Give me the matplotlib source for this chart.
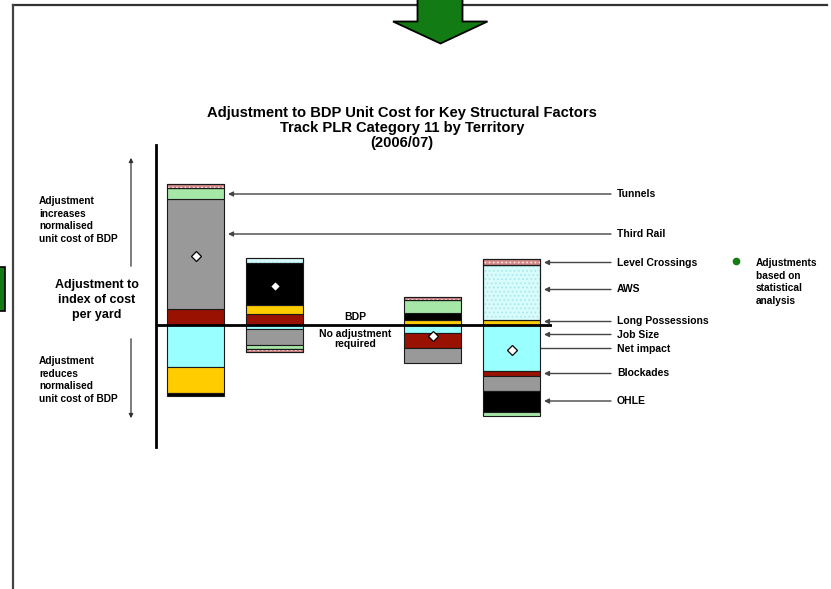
import numpy as np
import matplotlib
matplotlib.use("Agg")
import matplotlib.pyplot as plt
from matplotlib.patches import Polygon, Rectangle

plt.rcParams["font.family"] = ["Liberation Sans", "DejaVu Sans"]
plt.rcParams["font.weight"] = "bold"
plt.rcParams["hatch.linewidth"] = 0.7

# --------------------------------------------------------------
# data: adjustment to index of cost per yard, by territory
# (middle slot is the BDP reference, no bar)
# --------------------------------------------------------------
territories = ["T1", "T2", "BDP", "T3", "T4"]

job_size        = [-0.210, -0.020, 0.0, -0.040, -0.230]
blockades       = [ 0.080,  0.055, 0.0, -0.077, -0.025]
long_possession = [-0.130,  0.043, 0.0,  0.023,  0.025]
third_rail      = [ 0.550, -0.078, 0.0, -0.075, -0.077]
ohle            = [-0.016,  0.213, 0.0,  0.038, -0.105]
tunnels         = [ 0.055, -0.022, 0.0,  0.062, -0.018]
aws             = [ 0.000,  0.022, 0.0,  0.000,  0.275]
level_crossings = [ 0.018, -0.017, 0.0,  0.015,  0.032]

# stacking order and styles (face, hatch, hatch colour)
series = [
    ("Job Size",         job_size,        "#99ffff", None,   None),
    ("Blockades",        blockades,       "#991100", None,   None),
    ("Long Possessions", long_possession, "#ffcc00", None,   None),
    ("Third Rail",       third_rail,      "#999999", None,   None),
    ("OHLE",             ohle,            "#000000", None,   None),
    ("Tunnels",          tunnels,         "#a6e6a6", None,   None),
    ("AWS",              aws,             "#d8fbfb", "....", "#a6e8ee"),
    ("Level Crossings",  level_crossings, "#d48a8a", "....", "#fbe6e6"),
]

W, H = 831, 589
fig = plt.figure(figsize=(W / 100, H / 100), dpi=100)

# overlay in pixel units for the slide furniture and labels
ov = fig.add_axes([0, 0, 1, 1], zorder=0)
ov.set_xlim(0, W)
ov.set_ylim(H, 0)
ov.axis("off")

# chart axes
px_left, px_right, px_top, px_bot = 156, 551.5, 145, 447
ax = fig.add_axes([px_left / W, (H - px_bot) / H,
                   (px_right - px_left) / W, (px_bot - px_top) / H], zorder=1)
ax.patch.set_alpha(0)
ax.set_xlim(-0.5, 4.5)
ax.set_ylim(-0.61, 0.90)
for s in ["top", "right", "bottom"]:
    ax.spines[s].set_visible(False)
ax.spines["left"].set_linewidth(2)
ax.set_xticks([])
ax.set_yticks([])

x = np.arange(len(territories))
pos_bottom = np.zeros(len(x))
neg_bottom = np.zeros(len(x))
bw = 0.72
for name, vals, face, hatch, hcol in series:
    vals = np.array(vals)
    bottom = np.where(vals >= 0, pos_bottom, neg_bottom)
    mask = vals != 0
    ax.bar(x[mask], vals[mask], bw, bottom=bottom[mask], color=face,
           edgecolor="#1a1a1a", linewidth=0.8, zorder=2)
    if hatch:
        ax.bar(x[mask], vals[mask], bw, bottom=bottom[mask], color="none",
               edgecolor=hcol, hatch=hatch, linewidth=0, zorder=2.5)
        ax.bar(x[mask], vals[mask], bw, bottom=bottom[mask], color="none",
               edgecolor="#1a1a1a", linewidth=0.8, zorder=2.6)
    pos_bottom += np.where(vals > 0, vals, 0)
    neg_bottom += np.where(vals < 0, vals, 0)

# net impact per territory
net = np.sum([s[1] for s in series], axis=0)
has_bar = np.array([t != "BDP" for t in territories])
ax.plot(x[has_bar], net[has_bar], "D", ms=5.5, mfc="white", mec="black",
        mew=0.9, ls="none", zorder=4)

ax.axhline(0, color="black", lw=2, zorder=3)

# --------------------------------------------------------------
# slide furniture
# --------------------------------------------------------------
ov.plot([13, 827], [5, 5], color="#333333", lw=1.6)
ov.plot([13, 13], [5, H], color="#444444", lw=1.6)
ov.add_patch(Rectangle((-2, 266.5), 6.5, 44.5, facecolor="#137b13",
                       edgecolor="black", lw=1.2))
arrow = [(417.5, -2), (462.5, -2), (462.5, 21.5), (487.5, 21.5),
         (440.5, 43.5), (393, 21.5), (417.5, 21.5)]
ov.add_patch(Polygon(arrow, closed=True, facecolor="#137b13",
                     edgecolor="black", lw=1.3, zorder=5))

# title
ov.text(402, 128, "Adjustment to BDP Unit Cost for Key Structural Factors\n"
        "Track PLR Category 11 by Territory\n(2006/07)",
        ha="center", va="center", fontsize=10.6, linespacing=1.07)

# left-hand explanation
ov.text(39, 220, "Adjustment\nincreases\nnormalised\nunit cost of BDP",
        ha="left", va="center", fontsize=7.3, linespacing=1.32)
ov.text(39, 380, "Adjustment\nreduces\nnormalised\nunit cost of BDP",
        ha="left", va="center", fontsize=7.3, linespacing=1.32)
ov.text(97, 300, "Adjustment to\nindex of cost\nper yard",
        ha="center", va="center", fontsize=9, linespacing=1.28)
ov.annotate("", xy=(131, 155), xytext=(131, 269),
            arrowprops=dict(arrowstyle="-|>", color="#333333", lw=0.9,
                            mutation_scale=6))
ov.annotate("", xy=(131, 421), xytext=(131, 336),
            arrowprops=dict(arrowstyle="-|>", color="#333333", lw=0.9,
                            mutation_scale=6))

# BDP reference label
ov.text(355, 316.5, "BDP", ha="center", va="center", fontsize=7.5)
ov.text(355, 339, "No adjustment\nrequired", ha="center", va="center",
        fontsize=7.5, linespacing=0.95)

# factor call-outs
callouts = [
    ("Tunnels",          194,   228),
    ("Third Rail",       234,   228),
    ("Level Crossings",  262.5, 544),
    ("AWS",              289.5, 544),
    ("Long Possessions", 321.5, 544),
    ("Job Size",         334.5, 544),
    ("Net impact",       348.5, 522),
    ("Blockades",        373.5, 544),
    ("OHLE",             401,   544),
]
for label, yy, x_end in callouts:
    ov.annotate("", xy=(x_end, yy), xytext=(611, yy),
                arrowprops=dict(arrowstyle="-|>", color="#444444", lw=1.0,
                                mutation_scale=7, shrinkA=0, shrinkB=0))
    ov.text(617, yy, label, ha="left", va="center", fontsize=7.5)

ov.plot([736], [261], "o", color="#137b13", ms=4.5)
ov.text(756, 282, "Adjustments\nbased on\nstatistical\nanalysis",
        ha="left", va="center", fontsize=7.3, linespacing=1.32)

fig.savefig("out.png", dpi=100)
